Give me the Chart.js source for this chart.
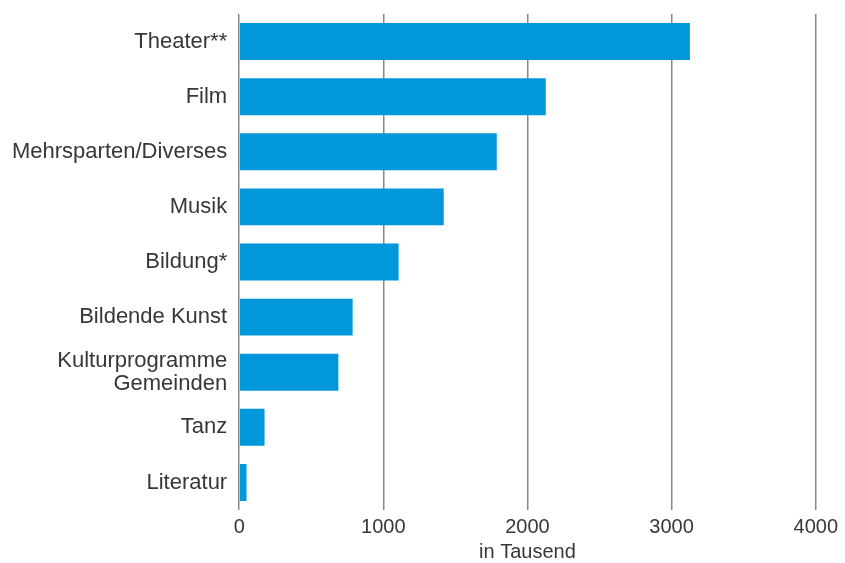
<!DOCTYPE html>
<html>
<head>
<meta charset="utf-8">
<script src="https://cdn.jsdelivr.net/npm/chart.js@4/dist/chart.umd.min.js"></script>
<style>
html,body{margin:0;padding:0;background:#fff;}
#wrap{width:845px;height:563px;position:relative;}
</style>
</head>
<body>
<div id="wrap"><canvas id="c" width="845" height="563"></canvas></div>
<script>
const categories = ["Theater**", "Film", "Mehrsparten/Diverses", "Musik", "Bildung*", "Bildende Kunst", ["Kulturprogramme", "Gemeinden"], "Tanz", "Literatur"];
const values = [3127, 2127, 1787, 1419, 1106, 787, 688, 176, 51];
const xTicks = [0, 1000, 2000, 3000, 4000];
const xTitle = "in Tausend";

const fam = "'Liberation Sans', Arial, sans-serif";
const labelFont = {family: fam, size: 22, lineHeight: 1.05};
const tickFont = {family: fam, size: 20, lineHeight: 1};
const textColor = "#3a3632";
const gridColor = "#8c8884";

new Chart(document.getElementById('c'), {
  type: 'bar',
  data: {
    labels: categories,
    datasets: [{
      data: values,
      backgroundColor: '#0098da',
      borderWidth: 0,
      categoryPercentage: 1.0,
      barPercentage: 0.67
    }]
  },
  options: {
    indexAxis: 'y',
    responsive: false,
    animation: false,
    layout: {padding: {top: 14, right: 29, left: 0, bottom: 0}},
    plugins: {legend: {display: false}, tooltip: {enabled: false}},
    scales: {
      x: {
        min: 0, max: 4000,
        afterBuildTicks: (axis) => { axis.ticks = xTicks.map(v => ({value: v})); },
        afterFit: (s) => { s.paddingLeft = 0; },
        grid: {color: gridColor, lineWidth: 1.5, drawTicks: false},
        border: {display: false},
        ticks: {font: tickFont, color: textColor, padding: 7, callback: (v) => String(v)},
        title: {display: true, text: xTitle, font: tickFont, color: textColor, padding: {top: -2, bottom: 1}}
      },
      y: {
        afterFit: (s) => { s.paddingTop = 0; s.paddingBottom = 0; },
        grid: {display: false, drawTicks: false},
        border: {display: false},
        ticks: {font: labelFont, color: textColor, padding: 12, autoSkip: false}
      }
    }
  }
});
</script>
</body>
</html>
